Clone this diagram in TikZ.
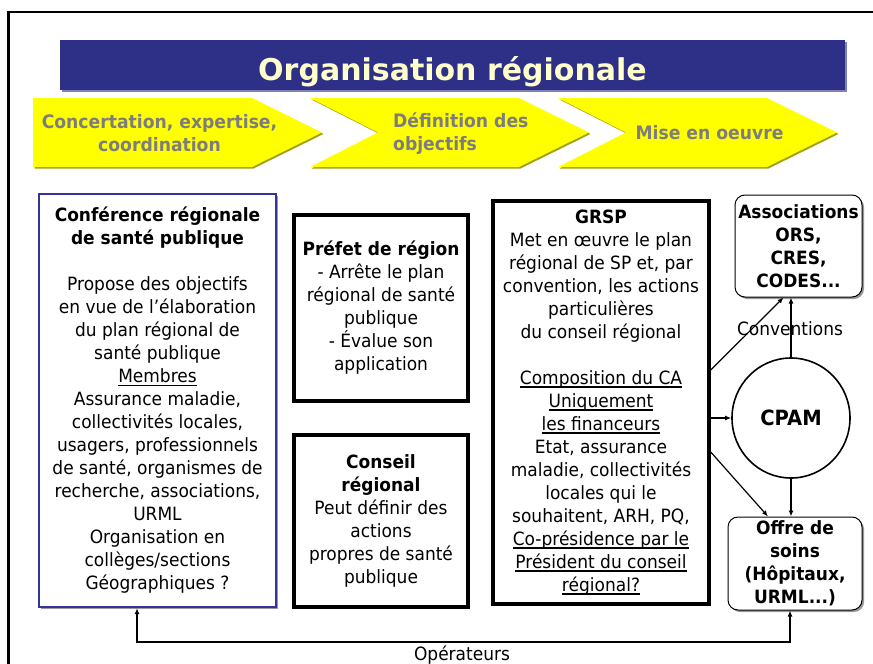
\documentclass[tikz,border=0pt]{standalone}
\usepackage{fontspec}
\setmainfont{DejaVu Sans}[FakeStretch=0.93]
\newfontfamily\titlefont{DejaVu Sans}
\usetikzlibrary{arrows.meta,shapes.geometric,shadows}

\definecolor{navy}{RGB}{46,47,135}
\definecolor{navyshade}{RGB}{128,128,184}
\definecolor{confblue}{RGB}{51,51,153}
\definecolor{stepyellow}{RGB}{255,255,0}
\definecolor{stepshade}{RGB}{160,160,20}
\definecolor{greytext}{RGB}{125,125,125}
\definecolor{cream}{RGB}{255,255,204}

% underline at a fixed distance below the baseline
\newsavebox\ulbox
\newcommand\ulx[1]{\sbox\ulbox{#1}\rlap{\rule[-3.2pt]{\wd\ulbox}{1.1pt}}\usebox\ulbox}

\begin{document}
\begin{tikzpicture}[x=1pt,y=-1pt,
  >={Latex[length=6pt,width=5pt]},
  body/.style={font=\fontsize{18.3}{23}\selectfont, align=center, inner sep=0pt},
  boxshadow/.style={drop shadow={shadow xshift=2pt, shadow yshift=-2pt, fill=black!40, opacity=1}},
  thickbox/.style={body, draw=black, line width=3.4pt, fill=white, boxshadow},
  confbox/.style={body, draw=confblue, line width=2.4pt, fill=white, boxshadow},
  roundbox/.style={body, draw=black, line width=1pt, fill=white, rounded corners=10pt, boxshadow},
  steptext/.style={text=greytext, inner sep=0pt, font=\bfseries\fontsize{18.5}{23}\selectfont},
  conn/.style={line width=1.2pt, ->}
]
\useasboundingbox (0,0) rectangle (873,664);

% page frame
\draw[line width=2.4pt] (8.5,664) -- (8.5,12) -- (873,12);

% title bar
\fill[navyshade] (62,42) rectangle (847,92);
\node[fill=navy, minimum width=785pt, minimum height=50pt, inner sep=0pt] (titlebar) at (452.5,65) {};
\node[anchor=base, text=cream, inner sep=0pt, font=\titlefont\bfseries\fontsize{30}{36}\selectfont]
  (titletext) at (452.5,80.5) {Organisation régionale};

% process chevrons (shadow first, then the yellow shape)
\begin{scope}[shift={(1.5,1.5)}]
  \fill[stepshade] (33,98) -- (252,98) -- (322,132.5) -- (252,167) -- (33,167) -- cycle;
  \fill[stepshade] (310,98) -- (519,98) -- (589,132.5) -- (519,167) -- (310,167) -- (378,132.5) -- cycle;
  \fill[stepshade] (558,98) -- (767,98) -- (837,132.5) -- (767,167) -- (558,167) -- (626,132.5) -- cycle;
\end{scope}
\fill[stepyellow] (33,98) -- (252,98) -- (322,132.5) -- (252,167) -- (33,167) -- cycle;
\fill[stepyellow] (310,98) -- (519,98) -- (589,132.5) -- (519,167) -- (310,167) -- (378,132.5) -- cycle;
\fill[stepyellow] (558,98) -- (767,98) -- (837,132.5) -- (767,167) -- (558,167) -- (626,132.5) -- cycle;

\node[steptext, align=center] (stepA) at (159.5,133.5)
  {Concertation, expertise,\\coordination};
\node[steptext, align=left, anchor=west] (stepB) at (393,134)
  {Définition des\\objectifs};
\node[steptext] (stepC) at (709.5,133)
  {Mise en oeuvre};

% actors
\node[confbox, minimum width=237pt, minimum height=413pt] (conf) at (157.5,400.5)
  {\textbf{Conférence régionale}\\\textbf{de santé publique}\\[23pt]
   Propose des objectifs\\en vue de l’élaboration\\du plan régional de\\santé publique\\
   \ulx{Membres}\\Assurance maladie,\\collectivités locales,\\usagers, professionnels\\
   de santé, organismes de\\recherche, associations,\\URML\\Organisation en\\
   collèges/sections\\Géographiques ?};

\node[thickbox, minimum width=174pt, minimum height=186pt] (prefet) at (381,308)
  {\textbf{Préfet de région}\\- Arrête le plan\\régional de santé\\publique\\- Évalue son\\application};

\node[thickbox, minimum width=174pt, minimum height=172pt] (conseil) at (381,521)
  {\textbf{Conseil}\\\textbf{régional}\\Peut définir des\\actions\\propres de santé\\publique};

\node[thickbox, minimum width=216pt, minimum height=403pt] (grsp) at (601,402.5)
  {\textbf{GRSP}\\Met en œuvre le plan\\régional de SP et, par\\convention, les actions\\
   particulières\\du conseil régional\\[23pt]
   \ulx{Composition du CA}\\\ulx{Uniquement}\\\ulx{les financeurs}\\Etat, assurance\\
   maladie, collectivités\\locales qui le\\souhaitent, ARH, PQ,\\
   \ulx{Co-présidence par le}\\\ulx{Président du conseil}\\\ulx{régional?}};

\node[roundbox, minimum width=127pt, minimum height=102pt, font=\bfseries\fontsize{18.3}{23}\selectfont] (assoc) at (798.5,246)
  {Associations\\ORS,\\CRES,\\CODES...};

\node[roundbox, minimum width=134pt, minimum height=93pt, font=\bfseries\fontsize{18.3}{23}\selectfont] (offre) at (795,563.5)
  {Offre de\\soins\\(Hôpitaux,\\URML...)};

\node[ellipse, draw, line width=1.6pt, fill=white, minimum width=118pt, minimum height=120pt, inner sep=0pt,
  font=\bfseries\fontsize{21}{25}\selectfont] (cpam) at (791,418) {CPAM};

% links
\draw[conn] ([yshift=32.5pt]grsp.east) -- ([xshift=-15pt]assoc.south);
\draw[conn] (cpam.north) -- (cpam.north |- assoc.south);
\draw[conn] (grsp.east |- cpam.west) -- (cpam.west);
\draw[conn] ([yshift=-49.5pt]grsp.east) -- ([xshift=-27pt]offre.north);
\draw[conn] (cpam.south) -- (cpam.south |- offre.north);

\node[body] (conv) at (790,329) {Conventions};

\coordinate (opbus) at (462,642);
\draw[line width=2pt, <->] ([xshift=-20.5pt]conf.south) |- (opbus) -| ([xshift=-5pt]offre.south);
\node[body] (oplabel) at (462,655) {Opérateurs};
\end{tikzpicture}
\end{document}
